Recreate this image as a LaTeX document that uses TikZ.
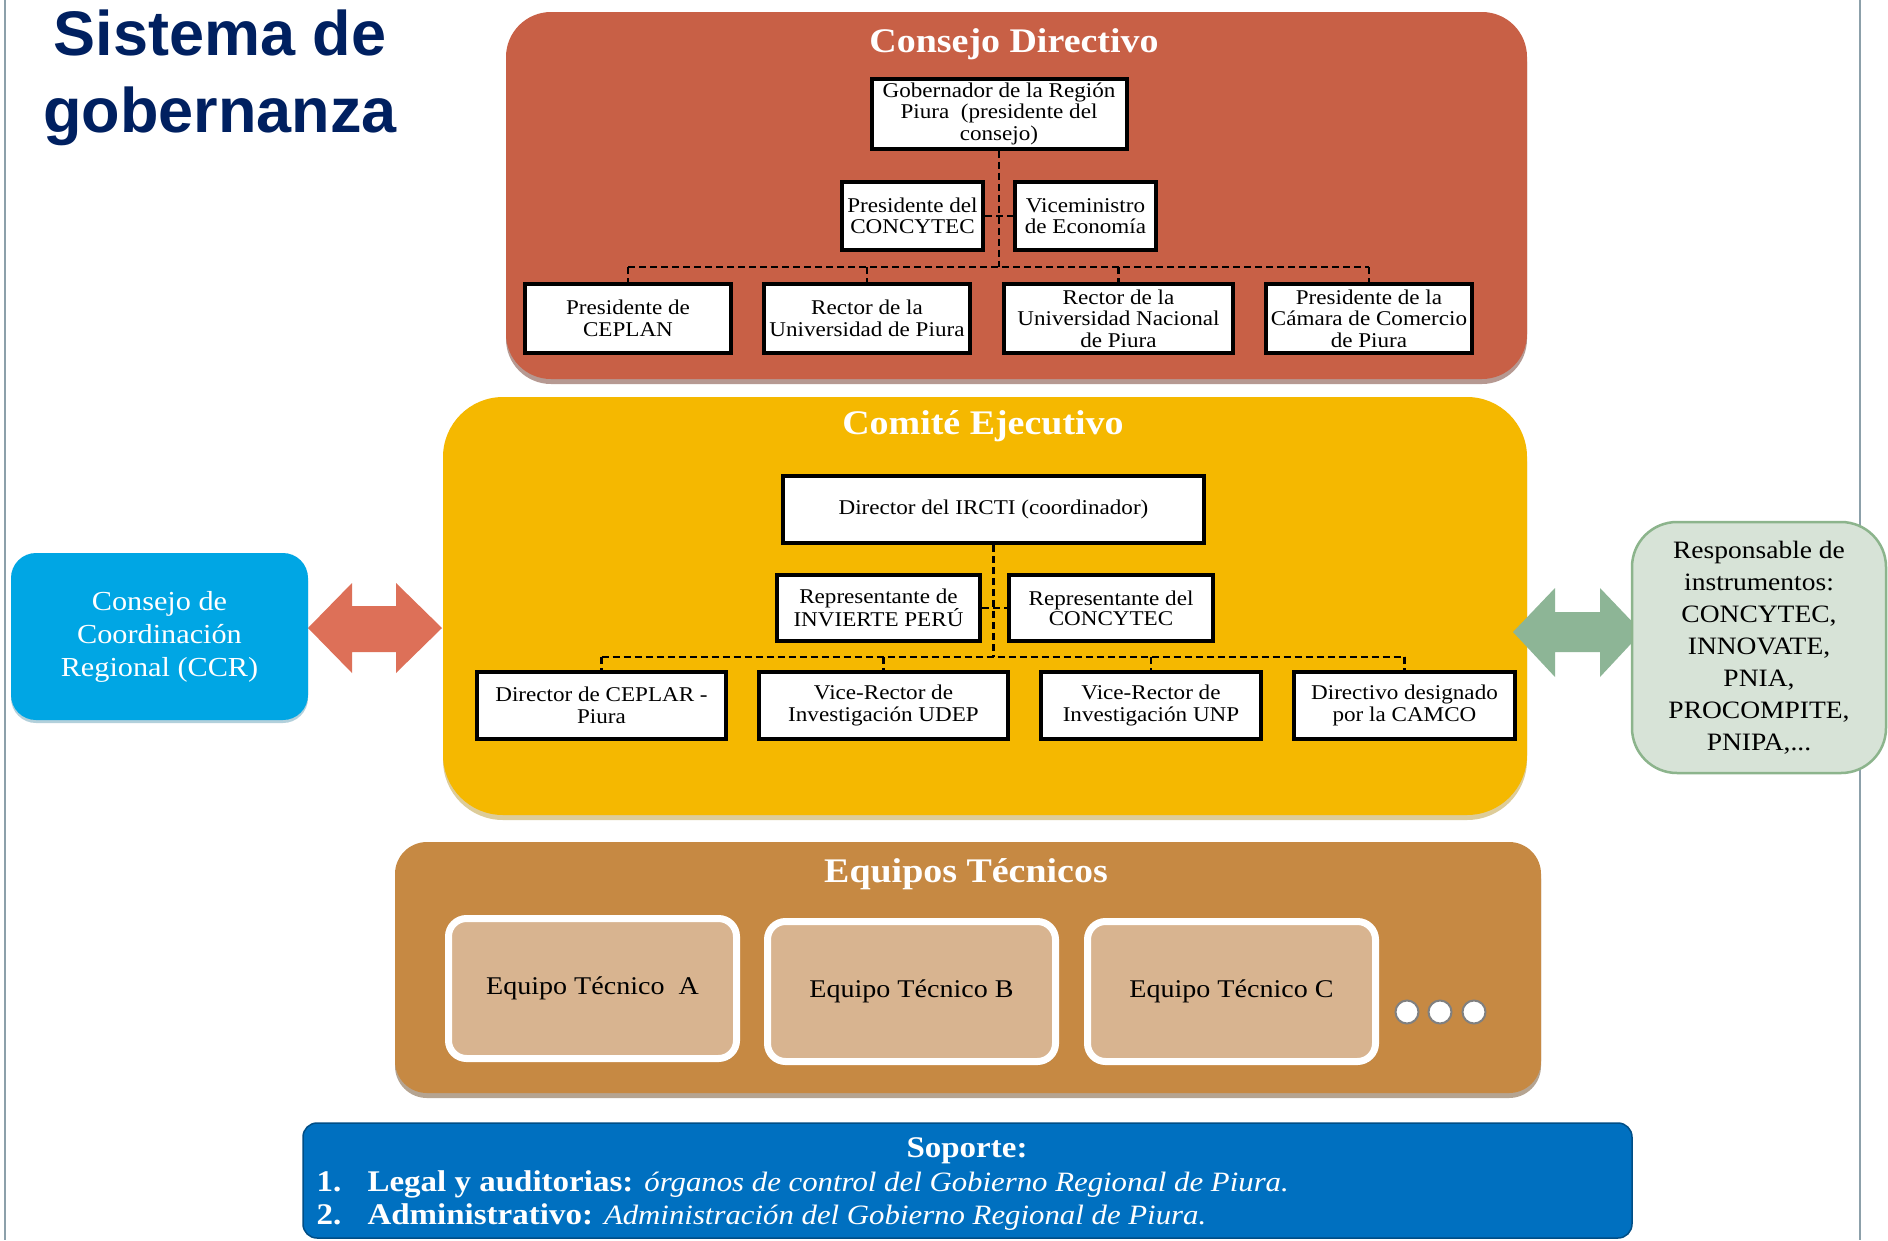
\documentclass[tikz,border=0pt]{standalone}
\usepackage{fontspec}
\setmainfont[FakeStretch=1.1]{Liberation Serif}
\newfontfamily\titlefont{Liberation Sans}
\usetikzlibrary{shadows}

\definecolor{navy}{RGB}{0,32,96}
\definecolor{consejored}{RGB}{200,96,70}
\definecolor{comiteyellow}{RGB}{245,184,0}
\definecolor{equipobrown}{RGB}{198,137,67}
\definecolor{equipotan}{RGB}{216,180,144}
\definecolor{ccrblue}{RGB}{0,166,228}
\definecolor{soporteblue}{RGB}{0,112,192}
\definecolor{respgreen}{RGB}{215,227,215}
\definecolor{respedge}{RGB}{140,180,140}
\definecolor{arrowred}{RGB}{221,112,88}
\definecolor{arrowgreen}{RGB}{141,181,150}
\definecolor{edgegray}{RGB}{140,160,170}

\tikzset{
  panel/.style={rectangle, inner sep=0pt, text=white},
  paneltitle/.style={anchor=base, text=white, font=\fontsize{34.5}{40}\selectfont\bfseries},
  orgbox/.style={draw=black, line width=4pt, fill=white, align=center, inner sep=0pt,
    font=\fontsize{21}{21.5}\selectfont},
  orglink/.style={line width=2.7pt, dash pattern=on 7pt off 4pt},
  teambox/.style={draw=white, line width=7pt, fill=equipotan, rounded corners=18pt,
    minimum width=288pt, minimum height=140pt, font=\fontsize{25.5}{30}\selectfont,
    drop shadow={shadow xshift=2pt, shadow yshift=-3pt, fill=black, opacity=.25}},
  moredot/.style={circle, draw=gray, line width=2pt, fill=white, minimum size=23pt, inner sep=0pt},
  supline/.style={anchor=base west, text=white, font=\fontsize{30}{34}\selectfont},
}
\newcommand{\supnote}[1]{{\fontsize{28}{34}\selectfont\itshape #1}}

\begin{document}
\begin{tikzpicture}[x=1pt, y=-1pt]
\useasboundingbox (0,0) rectangle (1888,1240);
\fill[white] (0,0) rectangle (1888,1240);
\draw[edgegray, line width=2.5pt] (5,0) -- (5,1240);
\draw[edgegray, line width=2.5pt] (1860,0) -- (1860,1240);

% title
\node[anchor=base, text=navy, font=\titlefont\bfseries\fontsize{63}{77}\selectfont] (title1) at (220,55) {Sistema de};
\node[anchor=base, text=navy, font=\titlefont\bfseries\fontsize{63}{77}\selectfont] (title2) at (220,132) {gobernanza};

% panels
\node[panel, fill=consejored, rounded corners=45pt, minimum width=1021pt, minimum height=367pt,
  drop shadow={shadow xshift=0pt, shadow yshift=-5pt, fill=consejored!55!black, opacity=.5}] (consejo) at (1016.5,195.5) {};
\node[panel, fill=comiteyellow, rounded corners=60pt, minimum width=1084pt, minimum height=418pt,
  drop shadow={shadow xshift=0pt, shadow yshift=-5pt, fill=comiteyellow!70!black, opacity=.4}] (comite) at (985,606) {};
\node[panel, fill=equipobrown, rounded corners=32pt, minimum width=1146pt, minimum height=251pt,
  drop shadow={shadow xshift=0pt, shadow yshift=-5pt, fill=equipobrown!55!black, opacity=.5}] (equipos) at (968,967.5) {};
\node[panel, fill=soporteblue, draw=soporteblue!70!black, line width=1.5pt, rounded corners=14pt,
  minimum width=1329pt, minimum height=115pt] (soporte) at (967.5,1180.5) {};

\node[paneltitle] (consejot) at (1014,52) {Consejo Directivo};
\node[paneltitle] (comitet) at (983,434) {Comité Ejecutivo};
\node[paneltitle] (equipost) at (966,882) {Equipos Técnicos};

% side boxes and arrows
\fill[arrowred] (308,628) -- (352,583) -- (352,606) -- (396,606) -- (396,583) -- (442,628)
  -- (396,673) -- (396,652) -- (352,652) -- (352,673) -- cycle;
\fill[arrowgreen] (1513,632) -- (1555,588) -- (1555,612) -- (1600,612) -- (1600,588) -- (1642,632)
  -- (1600,677) -- (1600,652) -- (1555,652) -- (1555,677) -- cycle;

\node[panel, fill=ccrblue, rounded corners=25pt, minimum width=297pt, minimum height=167pt,
  align=center, font=\fontsize{27.5}{33}\selectfont,
  drop shadow={shadow xshift=0pt, shadow yshift=-3pt, fill=ccrblue!60!black, opacity=.3}] (ccr) at (159.5,636.5)
  {Consejo de\\Coordinación\\Regional (CCR)};
\node[panel, fill=respgreen, draw=respedge, line width=2.5pt, rounded corners=45pt, text=black,
  minimum width=254pt, minimum height=251pt, align=center, font=\fontsize{25}{32}\selectfont] (resp) at (1759,647.5)
  {Responsable de\\instrumentos:\\CONCYTEC,\\INNOVATE,\\PNIA,\\PROCOMPITE,\\PNIPA,...};

% consejo directivo
\node[orgbox, minimum width=255pt, minimum height=70pt] (gob) at (999,113.5) {Gobernador de la Región\\Piura~ (presidente del\\consejo)};
\node[orgbox, minimum width=141pt, minimum height=68pt] (pcon) at (912.5,216) {Presidente del\\CONCYTEC};
\node[orgbox, minimum width=141pt, minimum height=68pt] (vice) at (1085.5,216) {Viceministro\\de Economía};
\node[orgbox, minimum width=206pt, minimum height=69pt] (ceplan) at (628,318.5) {Presidente de\\CEPLAN};
\node[orgbox, minimum width=206pt, minimum height=69pt] (rudep) at (867,318.5) {Rector de la\\Universidad de Piura};
\node[orgbox, minimum width=229pt, minimum height=69pt] (runp) at (1118.5,318.5) {Rector de la\\Universidad Nacional\\de Piura};
\node[orgbox, minimum width=206pt, minimum height=69pt] (camara) at (1369,318.5) {Presidente de la\\Cámara de Comercio\\de Piura};

\coordinate (cdbus) at (999,267);
\draw[orglink] (gob.south) -- (gob.south |- cdbus);
\draw[orglink] (pcon.east) -- (vice.west);
\draw[orglink] (ceplan.north |- cdbus) -- (camara.north |- cdbus);
\foreach \n in {ceplan,rudep,runp,camara}
  \draw[orglink] (\n.north |- cdbus) -- (\n.north);

% comite ejecutivo
\node[orgbox, minimum width=421pt, minimum height=67pt] (dir) at (993.5,509.5) {Director del IRCTI (coordinador)};
\node[orgbox, minimum width=203pt, minimum height=66pt, font=\fontsize{21}{20}\selectfont] (rinv) at (878.5,608) {Representante de\\INVIERTE PERÚ};
\node[orgbox, minimum width=204pt, minimum height=66pt, font=\fontsize{21}{20}\selectfont] (rcon) at (1111,608) {Representante del\\CONCYTEC};
\node[orgbox, minimum width=249pt, minimum height=67pt] (ceplar) at (601.5,705.5) {Director de CEPLAR -\\Piura};
\node[orgbox, minimum width=249pt, minimum height=67pt] (vudep) at (883.5,705.5) {Vice-Rector de\\Investigación UDEP};
\node[orgbox, minimum width=220pt, minimum height=67pt] (vunp) at (1151,705.5) {Vice-Rector de\\Investigación UNP};
\node[orgbox, minimum width=221pt, minimum height=67pt] (camco) at (1404.5,705.5) {Directivo designado\\por la CAMCO};

\coordinate (cebus) at (994,657);
\draw[orglink] (dir.south) -- (dir.south |- cebus);
\draw[orglink] (rinv.east) -- (rcon.west);
\draw[orglink] (ceplar.north |- cebus) -- (camco.north |- cebus);
\foreach \n in {ceplar,vudep,vunp,camco}
  \draw[orglink] (\n.north |- cebus) -- (\n.north);

% equipos tecnicos
\node[teambox] (eqa) at (592.5,988.5) {Equipo Técnico~~A};
\node[teambox] (eqb) at (911.5,991.5) {Equipo Técnico B};
\node[teambox] (eqc) at (1231.5,991.5) {Equipo Técnico C};
\node[moredot] (dot1) at (1407,1012) {};
\node[moredot] (dot2) at (1440,1012) {};
\node[moredot] (dot3) at (1474,1012) {};

% soporte
\node[anchor=base, text=white, font=\fontsize{30}{34}\selectfont\bfseries] (soportet) at (967,1157) {Soporte:};
\node[supline] (sup1) at (313,1191) {\makebox[51pt][l]{\textbf{1.}}\textbf{Legal y auditorias:} \supnote{órganos de control del Gobierno Regional de Piura.}};
\node[supline] (sup2) at (313,1224) {\makebox[51pt][l]{\textbf{2.}}\textbf{Administrativo:} \supnote{Administración del Gobierno Regional de Piura.}};
\end{tikzpicture}
\end{document}
